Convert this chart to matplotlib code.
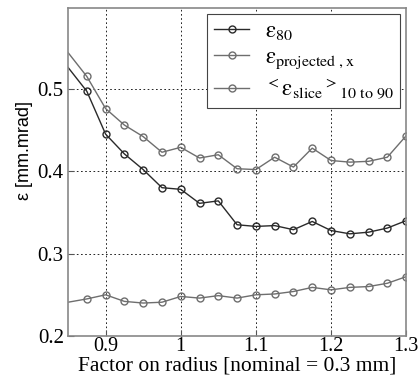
import numpy as np
import matplotlib.pyplot as plt

plt.rcParams['font.family'] = 'Liberation Serif'
plt.rcParams['mathtext.fontset'] = 'stix'

# --- data ---
factor = [0.85, 0.875, 0.9, 0.925, 0.95, 0.975, 1.0, 1.025, 1.05, 1.075,
          1.1, 1.125, 1.15, 1.175, 1.2, 1.225, 1.25, 1.275, 1.3]
eps_80 = [0.526, 0.497, 0.445, 0.421, 0.402, 0.380, 0.378, 0.361, 0.364, 0.335,
          0.333, 0.334, 0.329, 0.339, 0.328, 0.324, 0.326, 0.331, 0.340]
eps_proj = [0.544, 0.515, 0.476, 0.456, 0.442, 0.423, 0.429, 0.416, 0.420, 0.403,
            0.402, 0.417, 0.405, 0.428, 0.413, 0.411, 0.412, 0.417, 0.443]
eps_slice = [0.241, 0.245, 0.250, 0.242, 0.240, 0.241, 0.248, 0.246, 0.249, 0.246,
             0.250, 0.251, 0.254, 0.259, 0.256, 0.259, 0.260, 0.264, 0.272]

labels = [r'$\mathrm{ε}_{\mathrm{80}}$',
          r'$\mathrm{ε}_{\mathrm{projected\ ,x}}$',
          r'$^{<}\mathrm{ε}_{\mathrm{slice}}{}^{>}{}_{\mathrm{10\ to\ 90}}$']
colors = ['#2a2a2a', '#6e6e6e', '#6e6e6e']

fig = plt.figure(figsize=(4.2, 3.84), dpi=100)
ax = fig.add_axes([0.162, 0.125, 0.805, 0.854])

for y, lab, c in zip([eps_80, eps_proj, eps_slice], labels, colors):
    ax.plot(factor, y, color=c, lw=1.0, marker='o', ms=5, mfc='none',
            mec=c, mew=1.0, markevery=list(range(1, len(factor))), label=lab)

ax.set_xlim(0.85, 1.3)
ax.set_ylim(0.2, 0.598)
ax.set_xticks([0.9, 1.0, 1.1, 1.2, 1.3])
ax.set_xticklabels(['0.9', '1', '1.1', '1.2', '1.3'])
ax.set_yticks([0.2, 0.3, 0.4, 0.5])
ax.tick_params(direction='in', length=4, labelsize=15, color='#555555')
ax.tick_params(axis='x', pad=1, labelsize=14.5)
ax.tick_params(axis='y', pad=3)
ax.grid(True, color='black', ls=(0, (2, 3)), lw=0.6)
for sp in ax.spines.values():
    sp.set_color('#888888')
    sp.set_linewidth(1.2)

ax.set_xlabel('Factor on radius [nominal = 0.3 mm]', fontsize=15.5, labelpad=0)
ax.set_ylabel('ε [mm.mrad]', fontsize=13, family='Liberation Sans')
ax.yaxis.set_label_coords(-0.104, 0.565)

leg = ax.legend(loc='upper right', fontsize=16.5, frameon=True, fancybox=False,
                framealpha=1, edgecolor='#444444', borderpad=0.3,
                labelspacing=0.25, handlelength=1.5, handletextpad=0.7,
                borderaxespad=0.25)
leg.get_frame().set_linewidth(0.8)

fig.savefig('out.png', dpi=100)
